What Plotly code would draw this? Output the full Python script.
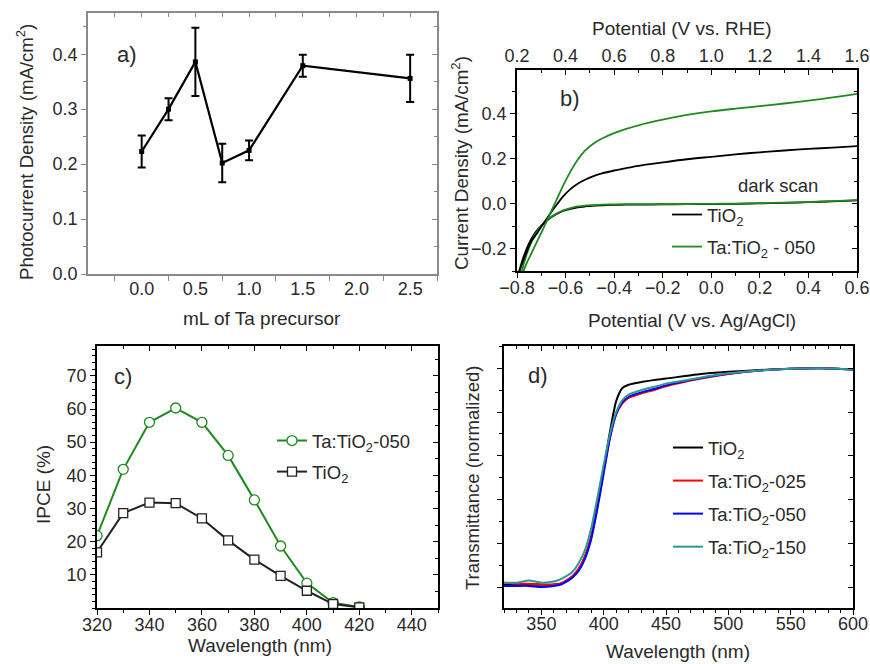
import plotly.graph_objects as go

W, H = 870, 664
FONT = "Liberation Sans, Arial, sans-serif"
TXT = "#2a2a2a"
GREEN = "#1f8a1f"
TEAL = "#2e9a8e"

# ---------------- data ----------------
# (a) photocurrent vs Ta precursor
a_ml = [0.0, 0.25, 0.5, 0.75, 1.0, 1.5, 2.5]
a_j = [0.223, 0.300, 0.386, 0.202, 0.225, 0.379, 0.356]
a_err = [0.029, 0.020, 0.062, 0.035, 0.018, 0.020, 0.043]

# (b) J-V curves
b_v = [-0.80, -0.78, -0.76, -0.74, -0.72, -0.70, -0.67, -0.64, -0.61, -0.58, -0.55, -0.52, -0.49,
       -0.45, -0.40, -0.35, -0.30, -0.20, -0.10, 0.00, 0.10, 0.20, 0.30, 0.40, 0.50, 0.60]
b_ta_light = [-0.40, -0.32, -0.265, -0.22, -0.175, -0.13, -0.06, 0.01, 0.08, 0.142, 0.195, 0.235, 0.263,
              0.289, 0.313, 0.332, 0.348, 0.373, 0.394, 0.410, 0.422, 0.433, 0.445, 0.458, 0.472, 0.488]
b_ti_light = [-0.33, -0.27, -0.215, -0.165, -0.137, -0.103, -0.055, -0.01, 0.032, 0.064, 0.088, 0.106, 0.120,
              0.134, 0.147, 0.158, 0.168, 0.183, 0.197, 0.208, 0.219, 0.228, 0.236, 0.243, 0.249, 0.255]
b_ti_dark = [-0.34, -0.26, -0.20, -0.155, -0.122, -0.098, -0.070, -0.049, -0.033, -0.024, -0.017, -0.013, -0.010,
             -0.008, -0.006, -0.005, -0.005, -0.004, -0.003, -0.002, -0.001, 0.001, 0.003, 0.006, 0.010, 0.014]
b_ta_dark = [-0.40, -0.30, -0.225, -0.17, -0.13, -0.10, -0.068, -0.046, -0.030, -0.020, -0.013, -0.009, -0.007,
             -0.005, -0.004, -0.003, -0.003, -0.002, -0.002, -0.001, 0.000, 0.002, 0.004, 0.007, 0.011, 0.015]

# (c) IPCE
c_wl = [320, 330, 340, 350, 360, 370, 380, 390, 400, 410, 420]
c_ta = [21.8, 41.8, 56.0, 60.3, 56.0, 46.0, 32.6, 18.7, 7.5, 1.6, 0.3]
c_ti = [16.8, 28.6, 31.8, 31.6, 27.0, 20.4, 14.6, 9.7, 5.2, 1.2, 0.2]

# (d) transmittance
d_wl = [320, 330, 340, 350, 360, 365, 370, 375, 380, 385, 390, 395, 400, 405, 410, 415, 420,
        430, 440, 450, 475, 500, 525, 550, 575, 600]
d_ti = [0.010, 0.012, 0.010, 0.010, 0.012, 0.015, 0.025, 0.045, 0.080, 0.140, 0.230, 0.380, 0.540, 0.710,
        0.850, 0.910, 0.925, 0.937, 0.946, 0.953, 0.972, 0.984, 0.992, 0.998, 1.000, 0.995]
d_025 = [0.020, 0.015, 0.015, 0.012, 0.010, 0.015, 0.030, 0.050, 0.085, 0.140, 0.230, 0.370, 0.530, 0.685,
         0.790, 0.840, 0.865, 0.885, 0.900, 0.918, 0.950, 0.974, 0.990, 0.998, 1.000, 0.995]
d_050 = [0.005, 0.005, 0.005, 0.000, 0.005, 0.010, 0.025, 0.045, 0.075, 0.130, 0.220, 0.360, 0.520, 0.680,
         0.790, 0.845, 0.870, 0.890, 0.905, 0.922, 0.952, 0.975, 0.990, 0.998, 1.000, 0.995]
d_150 = [0.020, 0.020, 0.030, 0.020, 0.025, 0.035, 0.050, 0.070, 0.110, 0.170, 0.270, 0.410, 0.560, 0.700,
         0.800, 0.855, 0.880, 0.900, 0.915, 0.930, 0.955, 0.977, 0.990, 0.998, 1.000, 0.995]

# ---------------- layout helpers ----------------
def dx(px0, px1):
    return [px0 / W, px1 / W]

def dy(py_top, py_bot):
    return [1 - py_bot / H, 1 - py_top / H]

def px(x):
    return x / W

def py(y):
    return 1 - y / H

tickfont = dict(family=FONT, size=18, color=TXT)

def axis(domain, rng, color, ticks="outside", **kw):
    d = dict(domain=domain, range=rng, showgrid=False, zeroline=False, showline=True,
             linecolor=color, linewidth=1.6, ticks=ticks, ticklen=5, tickwidth=1.4,
             tickcolor=color, tickfont=tickfont, fixedrange=True, automargin=False)
    d.update(kw)
    return d

fig = go.Figure()

# ---------------- (a) ----------------
fig.add_trace(go.Scatter(x=a_ml, y=a_j, mode="lines+markers", xaxis="x", yaxis="y",
                         line=dict(color="black", width=2.2),
                         marker=dict(symbol="square", size=5, color="black"),
                         error_y=dict(type="data", array=a_err, visible=True, color="black",
                                      thickness=2, width=4),
                         showlegend=False))

# ---------------- (b) ----------------
bline = dict(width=1.8, shape="spline", smoothing=0.8)
fig.add_trace(go.Scatter(x=b_v, y=b_ti_dark, mode="lines", xaxis="x2", yaxis="y2",
                         line=dict(color="black", **bline), showlegend=False))
fig.add_trace(go.Scatter(x=b_v, y=b_ta_dark, mode="lines", xaxis="x2", yaxis="y2",
                         line=dict(color=GREEN, **bline), showlegend=False))
fig.add_trace(go.Scatter(x=b_v, y=b_ti_light, mode="lines", xaxis="x2", yaxis="y2",
                         line=dict(color="black", **bline), name="TiO<sub>2</sub>",
                         legend="legend", legendgroup="b1"))
fig.add_trace(go.Scatter(x=b_v, y=b_ta_light, mode="lines", xaxis="x2", yaxis="y2",
                         line=dict(color=GREEN, **bline), name="Ta:TiO<sub>2</sub> - 050",
                         legend="legend", legendgroup="b2"))

# ---------------- (c) ----------------
fig.add_trace(go.Scatter(x=c_wl, y=c_ta, mode="lines+markers", xaxis="x3", yaxis="y3",
                         line=dict(color=GREEN, width=2),
                         marker=dict(symbol="circle", size=10, color="white",
                                     line=dict(color=GREEN, width=1.3)),
                         name="Ta:TiO<sub>2</sub>-050", legend="legend2", legendgroup="c1"))
fig.add_trace(go.Scatter(x=c_wl, y=c_ti, mode="lines+markers", xaxis="x3", yaxis="y3",
                         line=dict(color="#222222", width=2),
                         marker=dict(symbol="square", size=9, color="white",
                                     line=dict(color="#222222", width=1.3)),
                         name="TiO<sub>2</sub>", legend="legend2", legendgroup="c2"))

# ---------------- (d) ----------------
d_series = [("TiO<sub>2</sub>", d_ti, "black"),
            ("Ta:TiO<sub>2</sub>-025", d_025, "#ff0000"),
            ("Ta:TiO<sub>2</sub>-050", d_050, "#0000ff"),
            ("Ta:TiO<sub>2</sub>-150", d_150, TEAL)]
for i, (nm, ys, col) in enumerate(d_series):
    fig.add_trace(go.Scatter(x=d_wl, y=ys, mode="lines", xaxis="x4", yaxis="y4",
                             line=dict(color=col, width=2, shape="spline", smoothing=0.6), name=nm,
                             legend="legend3", legendgroup="d%d" % i))

# empty traces to hold mirror axes
for xa, ya in [("x5", "y"), ("x", "y5"), ("x6", "y2"), ("x2", "y6"),
               ("x7", "y3"), ("x3", "y7"), ("x8", "y4"), ("x4", "y8")]:
    fig.add_trace(go.Scatter(x=[], y=[], xaxis=xa, yaxis=ya, showlegend=False, hoverinfo="skip"))

GRAY = "#8a8a8a"
# domains
A_X, A_Y = dx(88, 437), dy(13, 274)
B_X, B_Y = dx(517, 857), dy(70, 271)
C_X, C_Y = dx(97, 438), dy(346, 608)
D_X, D_Y = dx(504, 853), dy(346, 608)

a_xr, a_yr = [-0.5, 2.75], [0, 0.475]
b_xr, b_yr = [-0.8, 0.6], [-0.3, 0.594]
c_xr, c_yr = [320, 450], [0, 79]
d_xr, d_yr = [320, 600], [-0.096, 1.102]

a_xt = [0.0, 0.5, 1.0, 1.5, 2.0, 2.5]
a_xminor = [-0.25, 0.25, 0.75, 1.25, 1.75, 2.25, 2.75]
a_yt = [0.0, 0.1, 0.2, 0.3, 0.4]
b_xt = [-0.8, -0.6, -0.4, -0.2, 0.0, 0.2, 0.4, 0.6]
b_top = [0.2, 0.4, 0.6, 0.8, 1.0, 1.2, 1.4, 1.6]
b_yt = [-0.2, 0.0, 0.2, 0.4]
c_xt = [320, 340, 360, 380, 400, 420, 440]
c_yt = [10, 20, 30, 40, 50, 60, 70]
d_xt = [350, 400, 450, 500, 550, 600]
d_yt = [0.0, 0.2, 0.4, 0.6, 0.8, 1.0]

legfont = dict(family=FONT, size=18.5, color=TXT)

fig.update_layout(
    width=W, height=H, margin=dict(l=0, r=0, t=0, b=0, autoexpand=False),
    paper_bgcolor="white", plot_bgcolor="white",
    font=dict(family=FONT, color=TXT),
    # (a)
    xaxis=axis(A_X, a_xr, GRAY, anchor="y", tickvals=a_xt, ticktext=["0.0", "0.5", "1.0", "1.5", "2.0", "2.5"],
               ticks="", ticklabelstandoff=-2,
               minor=dict(tickvals=a_xminor, ticks="outside", ticklen=5, tickcolor=GRAY)),
    yaxis=axis(A_Y, a_yr, GRAY, anchor="x", tickvals=a_yt, tickformat=".1f",
               minor=dict(dtick=0.05, tick0=0, ticks="outside", ticklen=3, tickcolor=GRAY)),
    xaxis5=axis(A_X, a_xr, GRAY, ticks="inside", overlaying="x", side="top", anchor="y",
                showticklabels=False, dtick=0.25, tick0=0, ticklen=4),
    yaxis5=axis(A_Y, a_yr, GRAY, ticks="inside", overlaying="y", side="right", anchor="x",
                showticklabels=False, dtick=0.1, tick0=0,
                minor=dict(dtick=0.05, ticks="inside", ticklen=3, tickcolor=GRAY)),
    # (b)
    xaxis2=axis(B_X, b_xr, "black", anchor="y2", tickvals=b_xt, tickformat=".1f", ticklabelstandoff=-5,
                minor=dict(dtick=0.1, tick0=0, ticks="outside", ticklen=3)),
    yaxis2=axis(B_Y, b_yr, "black", anchor="x2", tickvals=b_yt, tickformat=".1f",
                minor=dict(dtick=0.1, tick0=0, ticks="outside", ticklen=3)),
    xaxis6=axis(B_X, [0.2, 1.6], "black", ticks="inside", overlaying="x2", side="top", anchor="y2",
                tickvals=b_top, tickformat=".1f", ticklabelstandoff=-1,
                minor=dict(dtick=0.1, tick0=0, ticks="inside", ticklen=3)),
    yaxis6=axis(B_Y, b_yr, "black", ticks="inside", overlaying="y2", side="right", anchor="x2",
                showticklabels=False, tickvals=b_yt,
                minor=dict(dtick=0.1, tick0=0, ticks="inside", ticklen=3)),
    # (c)
    xaxis3=axis(C_X, c_xr, "black", anchor="y3", tickvals=c_xt, ticklabelstandoff=-5,
                minor=dict(dtick=10, tick0=0, ticks="outside", ticklen=3)),
    yaxis3=axis(C_Y, c_yr, "black", anchor="x3", tickvals=c_yt,
                minor=dict(dtick=2, tick0=0, ticks="outside", ticklen=3)),
    xaxis7=axis(C_X, c_xr, "black", ticks="inside", overlaying="x3", side="top", anchor="y3",
                showticklabels=False, tickvals=c_xt,
                minor=dict(dtick=10, tick0=0, ticks="inside", ticklen=3)),
    yaxis7=axis(C_Y, c_yr, "black", ticks="inside", overlaying="y3", side="right", anchor="x3",
                showticklabels=False, tickvals=c_yt,
                minor=dict(dtick=5, tick0=0, ticks="inside", ticklen=3)),
    # (d)
    xaxis4=axis(D_X, d_xr, "black", anchor="y4", tickvals=d_xt, ticklabelstandoff=-6,
                minor=dict(dtick=10, tick0=0, ticks="outside", ticklen=3)),
    yaxis4=axis(D_Y, d_yr, "black", anchor="x4", tickvals=d_yt, showticklabels=False,
                minor=dict(dtick=0.1, tick0=0, ticks="outside", ticklen=3)),
    xaxis8=axis(D_X, d_xr, "black", ticks="inside", overlaying="x4", side="top", anchor="y4",
                showticklabels=False, tickvals=d_xt,
                minor=dict(dtick=10, tick0=0, ticks="inside", ticklen=3)),
    yaxis8=axis(D_Y, d_yr, "black", ticks="inside", overlaying="y4", side="right", anchor="x4",
                showticklabels=False, tickvals=d_yt,
                minor=dict(dtick=0.1, tick0=0, ticks="inside", ticklen=3)),
    legend=dict(x=px(667), y=py(196), xanchor="left", yanchor="top", bgcolor="rgba(0,0,0,0)",
                font=legfont, tracegroupgap=5, itemwidth=30),
    legend2=dict(x=px(272), y=py(422), xanchor="left", yanchor="top", bgcolor="rgba(0,0,0,0)",
                 font=legfont, tracegroupgap=4, itemwidth=30),
    legend3=dict(x=px(668), y=py(429), xanchor="left", yanchor="top", bgcolor="rgba(0,0,0,0)",
                 font=legfont, tracegroupgap=6, itemwidth=30),
)

def ann(text, x, y, size=19, angle=0):
    fig.add_annotation(text=text, x=px(x), y=py(y), xref="paper", yref="paper",
                       xanchor="center", yanchor="middle", showarrow=False, textangle=angle,
                       font=dict(family=FONT, size=size, color=TXT))

# axis titles
ann("Photocurrent Density (mA/cm<sup>2</sup>)", 25, 152, size=18.6, angle=-90)
ann("mL of Ta precursor", 262, 318)
ann("Current Density (mA/cm<sup>2</sup>)", 460, 163, size=18.8, angle=-90)
ann("Potential (V vs. Ag/AgCl)", 692, 320)
ann("Potential (V vs. RHE)", 682, 29)
ann("IPCE (%)", 43, 485, angle=-90)
ann("Wavelength (nm)", 260, 645)
ann("Transmittance (normalized)", 472, 478, size=18.5, angle=-90)
ann("Wavelength (nm)", 678, 651)
ann("dark scan", 778, 186, size=18.5)
# panel labels
ann("a)", 127, 54, size=22)
ann("b)", 570, 98, size=22)
ann("c)", 123, 377, size=22)
ann("d)", 538, 375, size=22)

fig.write_html("out.html")
